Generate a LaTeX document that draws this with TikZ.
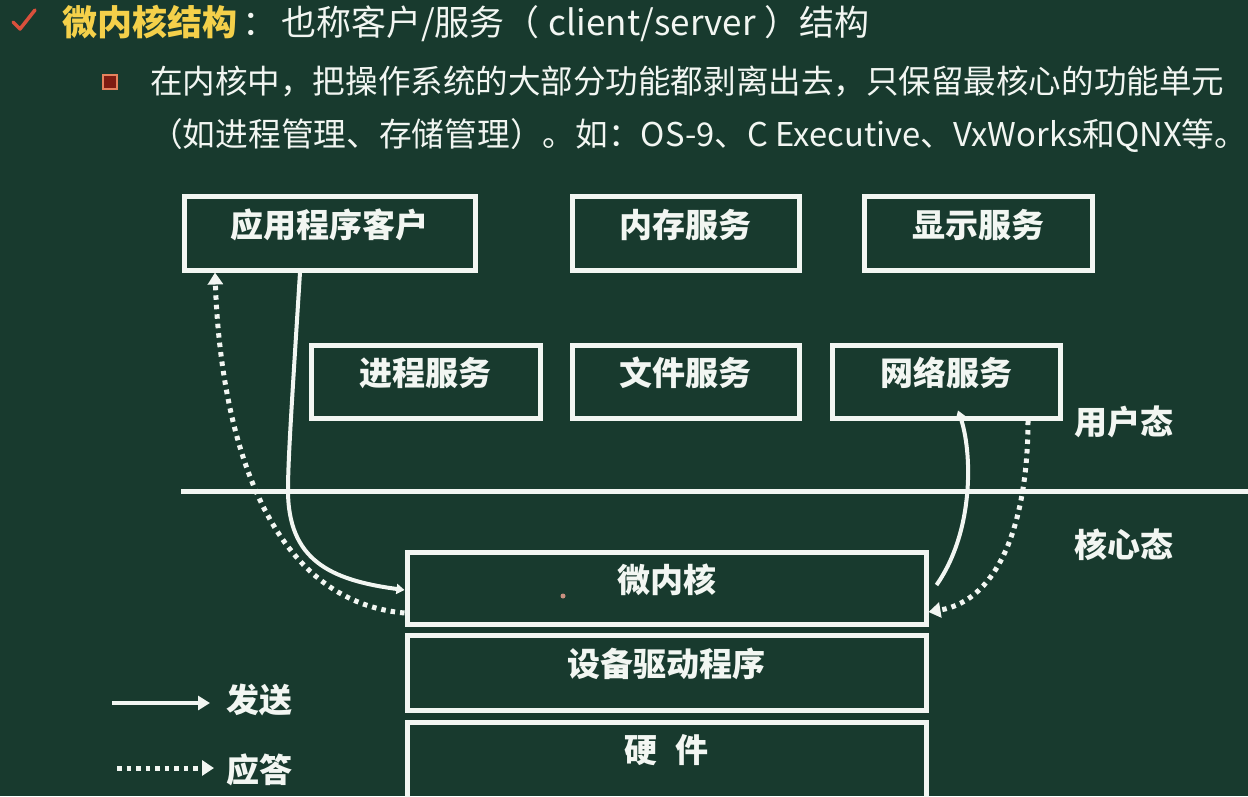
\documentclass[tikz,border=0pt]{standalone}
\usepackage{fontspec}
\usepackage{graphicx}
\setmainfont{Noto Sans CJK SC}
\usetikzlibrary{arrows.meta}
\definecolor{bg}{HTML}{183A2E}
\definecolor{fg}{HTML}{F2F6F2}
\definecolor{ttl}{HTML}{F4D04A}
\definecolor{tickc}{HTML}{D9503C}
\definecolor{bulO}{HTML}{E5825E}
\definecolor{bulI}{HTML}{7E1C12}
\definecolor{dotc}{HTML}{C89080}
\begin{document}
\begin{tikzpicture}[x=1pt,y=-1pt,
  box/.style={draw=fg, line width=5pt, text=fg, inner sep=0pt,
    font=\fontsize{33}{33}\selectfont\bfseries, text height=24pt, text depth=16pt},
  lbl/.style={text=fg, inner sep=0pt, anchor=west,
    font=\fontsize{33}{33}\selectfont\bfseries, text height=25pt, text depth=0pt},
  body/.style={text=fg, inner sep=0pt, anchor=west,
    font=\fontsize{34}{34}\selectfont, text height=26pt, text depth=0pt},
  sendline/.style={draw=fg, line width=4pt, -{Triangle[width=10pt,length=8pt]}},
  replyline/.style={draw=fg, line width=5pt, dash pattern=on 4.5pt off 5pt,
    -{Triangle[width=15pt,length=12pt]}},
]
\fill[bg] (0,0) rectangle (1248,796);
\useasboundingbox (0,0) rectangle (1248,796);

% header
\draw[tickc, line width=3.5pt, line cap=round, line join=round] (13,22) -- (20,29) -- (35,10);
\node[text=fg, inner sep=0pt, anchor=west, font=\fontsize{35}{35}\selectfont, text height=27pt, text depth=0pt]
  (title) at (62,22) {{\color{ttl}\bfseries 微内核结构}\hspace{5pt}：\hspace{4pt}也称客户/服务（\hspace{9pt}client/server\hspace{9pt}）结构};
\filldraw[fill=bulI, draw=bulO, line width=2.5pt] (103,75) rectangle (117,89);
\node[body] (l2) at (150,80) {\resizebox{1074pt}{!}{在内核中，把操作系统的大部分功能都剥离出去，只保留最核心的功能单元}};
\node[body] (l3) at (150,133) {\resizebox{1097pt}{!}{（如进程管理、存储管理）。如：OS-9、C Executive、VxWorks和QNX等。}};

% boxes
\node[box, minimum width=291pt, minimum height=74pt] (app) at (329.5,233) {应用程序客户};
\node[box, minimum width=227pt, minimum height=74pt] (mem) at (685.5,233) {内存服务};
\node[box, minimum width=228pt, minimum height=74pt] (disp) at (978,233) {显示服务};
\node[box, minimum width=229pt, minimum height=73pt] (proc) at (425.5,381.5) {进程服务};
\node[box, minimum width=227pt, minimum height=73pt] (file) at (685.5,381.5) {文件服务};
\node[box, minimum width=228pt, minimum height=73pt] (net) at (946,381.5) {网络服务};
\node[box, minimum width=519pt, minimum height=72pt] (kern) at (666.5,588) {微内核};
\node[box, minimum width=519pt, minimum height=75pt] (drv) at (666.5,672.5) {设备驱动程序};
\node[box, minimum width=519pt, minimum height=88pt, text height=20pt, text depth=28pt] (hw) at (666.5,766) {硬\hspace{0.55em}件};

% user / kernel mode divider
\coordinate (divL) at (181,491);
\coordinate (divR) at (1248,491);
\draw[fg, line width=5pt] (divL) -- (divR);
\node[lbl] (um) at (1074,422) {用户态};
\node[lbl] (km) at (1074,545) {核心态};

% connectors
\draw[sendline] ([xshift=-29.5pt]app.south) .. controls (292,400) and (288,460) .. (288,490)
  .. controls (288,560) and (330,580) .. ([yshift=-2pt]kern.west);
\draw[replyline] ([yshift=-25pt]kern.west) .. controls (260,600) and (220,420) .. ([xshift=-114.5pt]app.south);
\draw[sendline] ([xshift=8pt,yshift=3pt]kern.east) .. controls (975,530) and (972,450) .. ([xshift=12pt,yshift=10pt]net.south);
\draw[replyline] ([xshift=82pt]net.south) .. controls (1028,520) and (1000,600) .. ([yshift=-24pt]kern.east);

% pointer dot
\fill[dotc] (563,596) circle (2.5pt);

% legend
\coordinate (s1) at (112,703);
\coordinate (s2) at (210,703);
\coordinate (r1) at (117,768);
\coordinate (r2) at (214,768);
\draw[draw=fg, line width=4pt, -{Triangle[width=14pt,length=12pt]}] (s1) -- (s2);
\draw[replyline] (r1) -- (r2);
\node[lbl] (lsend) at (226,700) {发送};
\node[lbl] (lrep) at (226,770) {应答};
\end{tikzpicture}
\end{document}
